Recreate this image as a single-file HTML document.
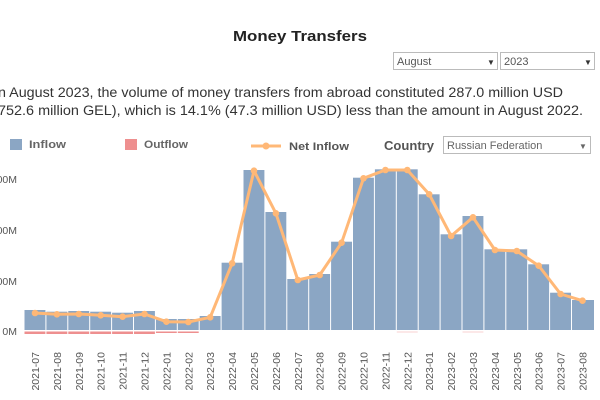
<!DOCTYPE html>
<html><head><meta charset="utf-8"><style>
html,body{margin:0;padding:0;background:#fff;width:600px;height:400px;overflow:hidden;font-family:"Liberation Sans",sans-serif}
</style></head><body>
<svg width="600" height="400" xmlns="http://www.w3.org/2000/svg" font-family="Liberation Sans, sans-serif">
<text x="233" y="41" font-size="15" font-weight="bold" fill="#222" textLength="134" lengthAdjust="spacingAndGlyphs">Money Transfers</text>
<rect x="393.5" y="52.5" width="104" height="17" fill="#fff" stroke="#bbb"/>
<text x="397" y="65" font-size="11" fill="#555">August</text>
<text x="487" y="65" font-size="8" fill="#333">▼</text>
<rect x="500.5" y="52.5" width="94" height="17" fill="#fff" stroke="#bbb"/>
<text x="504" y="65" font-size="11" fill="#555">2023</text>
<text x="584" y="65" font-size="8" fill="#333">▼</text>
<text x="-2" y="97" font-size="13.4" fill="#333" textLength="565" lengthAdjust="spacingAndGlyphs">n August 2023, the volume of money transfers from abroad constituted 287.0 million USD</text>
<text x="-2" y="115" font-size="13.4" fill="#333" textLength="585" lengthAdjust="spacingAndGlyphs">752.6 million GEL), which is 14.1% (47.3 million USD) less than the amount in August 2022.</text>
<rect x="10" y="139" width="12" height="11" fill="#8ba6c4"/>
<text x="29" y="148" font-size="11" font-weight="bold" fill="#666" textLength="37" lengthAdjust="spacingAndGlyphs">Inflow</text>
<rect x="125" y="139" width="12" height="11" fill="#ee8f8f"/>
<text x="144" y="148" font-size="11" font-weight="bold" fill="#666" textLength="44" lengthAdjust="spacingAndGlyphs">Outflow</text>
<line x1="251" y1="146" x2="281" y2="146" stroke="#ffb877" stroke-width="3"/>
<circle cx="266" cy="146" r="3.5" fill="#ffb877"/>
<text x="289" y="150" font-size="11" font-weight="bold" fill="#555" textLength="60" lengthAdjust="spacingAndGlyphs">Net Inflow</text>
<text x="384" y="150" font-size="13" font-weight="bold" fill="#555" textLength="50" lengthAdjust="spacingAndGlyphs">Country</text>
<rect x="443.5" y="136.5" width="147" height="17" fill="#fff" stroke="#bbb"/>
<text x="447" y="149" font-size="11" fill="#666">Russian Federation</text>
<text x="579" y="149" font-size="8" fill="#666">▼</text>
<g font-size="10.5" fill="#555" text-anchor="end">
<text x="17" y="183">300M</text><text x="17" y="234">200M</text><text x="17" y="285">100M</text><text x="17" y="335">0M</text>
</g>
<g fill="#8ba6c4">
<rect x="24.5" y="310" width="20.9" height="20"/>
<rect x="46.4" y="311.7" width="20.9" height="18.3"/>
<rect x="68.3" y="311" width="20.9" height="19"/>
<rect x="90.2" y="311.7" width="20.9" height="18.3"/>
<rect x="112.1" y="312.7" width="20.9" height="17.3"/>
<rect x="134" y="311" width="20.9" height="19"/>
<rect x="155.9" y="319" width="20.9" height="11"/>
<rect x="177.8" y="319" width="20.9" height="11"/>
<rect x="199.7" y="316" width="20.9" height="14"/>
<rect x="221.6" y="262.7" width="20.9" height="67.3"/>
<rect x="243.5" y="170" width="20.9" height="160"/>
<rect x="265.4" y="212" width="20.9" height="118"/>
<rect x="287.3" y="279" width="20.9" height="51"/>
<rect x="309.2" y="274" width="20.9" height="56"/>
<rect x="331.1" y="241.7" width="20.9" height="88.3"/>
<rect x="353" y="177.7" width="20.9" height="152.3"/>
<rect x="374.9" y="169.3" width="20.9" height="160.7"/>
<rect x="396.8" y="169.3" width="20.9" height="160.7"/>
<rect x="418.7" y="194.3" width="20.9" height="135.7"/>
<rect x="440.6" y="234.3" width="20.9" height="95.7"/>
<rect x="462.5" y="216" width="20.9" height="114"/>
<rect x="484.4" y="249.3" width="20.9" height="80.7"/>
<rect x="506.3" y="249.3" width="20.9" height="80.7"/>
<rect x="528.2" y="264.3" width="20.9" height="65.7"/>
<rect x="550.1" y="292.7" width="20.9" height="37.3"/>
<rect x="572" y="300" width="22" height="30"/>
</g>
<g fill="#ee8f8f">
<rect x="24.5" y="331.5" width="20.9" height="2.5"/>
<rect x="46.4" y="331.5" width="20.9" height="2.5"/>
<rect x="68.3" y="331.5" width="20.9" height="2.5"/>
<rect x="90.2" y="331.5" width="20.9" height="2.5"/>
<rect x="112.1" y="331.5" width="20.9" height="2.5"/>
<rect x="134" y="331.5" width="20.9" height="2.5"/>
<rect x="155.9" y="331.5" width="20.9" height="1.5"/>
<rect x="177.8" y="331.5" width="20.9" height="1.5"/>
<rect x="396.8" y="331.5" width="20.9" height="1" opacity=".4"/>
<rect x="462.5" y="331.5" width="20.9" height="1" opacity=".4"/>
</g>
<polyline fill="none" stroke="#ffb877" stroke-width="3" stroke-linejoin="round" points="35,313 56.9,314.3 78.8,314 100.7,315.3 122.6,316.7 144.5,314 166.4,321.7 188.3,322 210.2,317.3 232.1,263.3 254,170.7 275.9,213.3 297.8,280 319.7,275 341.6,242.7 363.5,178.3 385.4,170 407.3,170 429.2,194.3 451.1,236 473,217.3 494.9,250 516.8,251 538.7,265.7 560.6,294 582.5,300.7"/>
<g fill="#ffb877">
<circle cx="35" cy="313" r="3.3"/><circle cx="56.9" cy="314.3" r="3.3"/><circle cx="78.8" cy="314" r="3.3"/><circle cx="100.7" cy="315.3" r="3.3"/><circle cx="122.6" cy="316.7" r="3.3"/><circle cx="144.5" cy="314" r="3.3"/><circle cx="166.4" cy="321.7" r="3.3"/><circle cx="188.3" cy="322" r="3.3"/><circle cx="210.2" cy="317.3" r="3.3"/><circle cx="232.1" cy="263.3" r="3.3"/><circle cx="254" cy="170.7" r="3.3"/><circle cx="275.9" cy="213.3" r="3.3"/><circle cx="297.8" cy="280" r="3.3"/><circle cx="319.7" cy="275" r="3.3"/><circle cx="341.6" cy="242.7" r="3.3"/><circle cx="363.5" cy="178.3" r="3.3"/><circle cx="385.4" cy="170" r="3.3"/><circle cx="407.3" cy="170" r="3.3"/><circle cx="429.2" cy="194.3" r="3.3"/><circle cx="451.1" cy="236" r="3.3"/><circle cx="473" cy="217.3" r="3.3"/><circle cx="494.9" cy="250" r="3.3"/><circle cx="516.8" cy="251" r="3.3"/><circle cx="538.7" cy="265.7" r="3.3"/><circle cx="560.6" cy="294" r="3.3"/><circle cx="582.5" cy="300.7" r="3.3"/>
</g>
<g font-size="10.5" fill="#555" text-anchor="end">
<text transform="translate(39,352) rotate(-90)">2021-07</text>
<text transform="translate(60.9,352) rotate(-90)">2021-08</text>
<text transform="translate(82.8,352) rotate(-90)">2021-09</text>
<text transform="translate(104.7,352) rotate(-90)">2021-10</text>
<text transform="translate(126.6,352) rotate(-90)">2021-11</text>
<text transform="translate(148.5,352) rotate(-90)">2021-12</text>
<text transform="translate(170.4,352) rotate(-90)">2022-01</text>
<text transform="translate(192.3,352) rotate(-90)">2022-02</text>
<text transform="translate(214.2,352) rotate(-90)">2022-03</text>
<text transform="translate(236.1,352) rotate(-90)">2022-04</text>
<text transform="translate(258,352) rotate(-90)">2022-05</text>
<text transform="translate(279.9,352) rotate(-90)">2022-06</text>
<text transform="translate(301.8,352) rotate(-90)">2022-07</text>
<text transform="translate(323.7,352) rotate(-90)">2022-08</text>
<text transform="translate(345.6,352) rotate(-90)">2022-09</text>
<text transform="translate(367.5,352) rotate(-90)">2022-10</text>
<text transform="translate(389.4,352) rotate(-90)">2022-11</text>
<text transform="translate(411.3,352) rotate(-90)">2022-12</text>
<text transform="translate(433.2,352) rotate(-90)">2023-01</text>
<text transform="translate(455.1,352) rotate(-90)">2023-02</text>
<text transform="translate(477,352) rotate(-90)">2023-03</text>
<text transform="translate(498.9,352) rotate(-90)">2023-04</text>
<text transform="translate(520.8,352) rotate(-90)">2023-05</text>
<text transform="translate(542.7,352) rotate(-90)">2023-06</text>
<text transform="translate(564.6,352) rotate(-90)">2023-07</text>
<text transform="translate(586.5,352) rotate(-90)">2023-08</text>
</g>
</svg>
</body></html>
